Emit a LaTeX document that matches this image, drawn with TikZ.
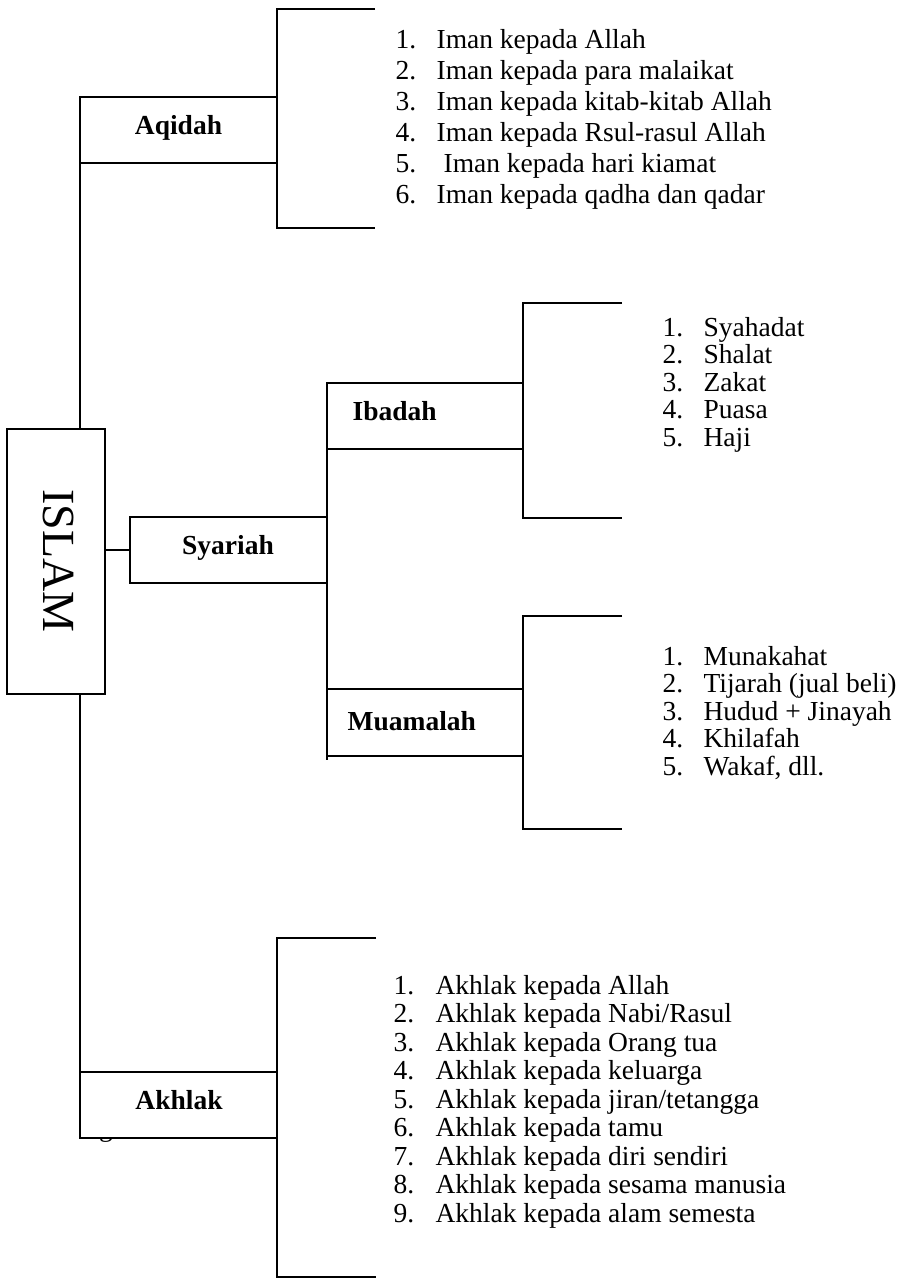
\documentclass[tikz,border=0pt]{standalone}
\usepackage{fontspec}
\setmainfont{Liberation Serif}
\begin{document}
\begin{tikzpicture}[x=1pt,y=-1pt,line width=1.2pt,
  box/.style={draw,fill=white,inner sep=0pt,outer sep=0pt,line width=1.3pt},
  itemtxt/.style={anchor=base west,inner sep=0pt,font=\fontsize{27.5}{30}\selectfont},
  lbl/.style={inner sep=0pt,font=\fontsize{27.5}{30}\selectfont\bfseries},
  link/.style={line width=1.3pt}]
\useasboundingbox (0,0) rectangle (903,1287);

% ---- coordinates for brackets and trunk
\coordinate (aqT) at (277,9);   \coordinate (aqB) at (277,228);
\coordinate (aqTe) at (375,9);  \coordinate (aqBe) at (375,228);
\coordinate (ibT) at (523,303); \coordinate (ibB) at (523,518);
\coordinate (ibTe) at (622,303);\coordinate (ibBe) at (622,518);
\coordinate (muT) at (523,616); \coordinate (muB) at (523,829);
\coordinate (muTe) at (622,616);\coordinate (muBe) at (622,829);
\coordinate (akT) at (277,938); \coordinate (akB) at (277,1277);
\coordinate (akTe) at (376,938);\coordinate (akBe) at (376,1277);
\coordinate (trunkEnd) at (80,1110);
\coordinate (syEnd) at (327,760);

% ---- stray glyph partly hidden behind the Akhlak box
\node[anchor=base,inner sep=0pt,font=\fontsize{27.5}{30}\selectfont] (stray) at (106,1136) {g};

% ---- main boxes
\node[box,minimum width=98pt,minimum height=265pt] (islam) at (56,561.5) {};
\node[rotate=-90,inner sep=0pt,font=\fontsize{46}{46}\selectfont] (islamtxt) at (59,561) {ISLAM};

\node[box,minimum width=197pt,minimum height=66pt] (aqidah) at (178.5,130) {};
\node[box,minimum width=197pt,minimum height=66pt] (syariah) at (228.5,550) {};
\node[box,minimum width=196pt,minimum height=66pt] (ibadah) at (425,416) {};
\node[box,minimum width=196pt,minimum height=67pt] (muamalah) at (425,722.5) {};

% ---- trunk and connectors
\draw[link] (aqidah.north west) -- (islam.north -| aqidah.north west);
\draw[link] (islam.south -| aqidah.north west) -- (trunkEnd);
\draw[link] (islam.east |- syariah.west) -- (syariah.west);
\draw[link] (ibadah.north west) -- (syEnd);

% ---- brackets
\draw[link] (aqTe) -- (aqT) -- (aqB) -- (aqBe);
\draw[link] (ibTe) -- (ibT) -- (ibB) -- (ibBe);
\draw[link] (muTe) -- (muT) -- (muB) -- (muBe);
\draw[link] (akTe) -- (akT) -- (akB) -- (akBe);

\node[box,minimum width=197pt,minimum height=66pt] (akhlak) at (178.5,1105) {};

% ---- box labels
\node[lbl,anchor=base] (aqidahtxt) at (178.5,135) {Aqidah};
\node[lbl,anchor=base] (syariahtxt) at (228,554) {Syariah};
\node[lbl,anchor=base west] (ibadahtxt) at (352,420) {Ibadah};
\node[lbl,anchor=base west] (muamalahtxt) at (347,730) {Muamalah};
\node[lbl,anchor=base] (akhlaktxt) at (179,1109) {Akhlak};

% ---- Aqidah list
\node[itemtxt] (aqn1) at (395,49) {1.};    \node[itemtxt] (aqt1) at (436,49) {Iman kepada Allah};
\node[itemtxt] (aqn2) at (395,79.8) {2.};  \node[itemtxt] (aqt2) at (436,79.8) {Iman kepada para malaikat};
\node[itemtxt] (aqn3) at (395,110.6) {3.}; \node[itemtxt] (aqt3) at (436,110.6) {Iman kepada kitab-kitab Allah};
\node[itemtxt] (aqn4) at (395,141.4) {4.}; \node[itemtxt] (aqt4) at (436,141.4) {Iman kepada Rsul-rasul Allah};
\node[itemtxt] (aqn5) at (395,172.2) {5.}; \node[itemtxt] (aqt5) at (443,172.2) {Iman kepada hari kiamat};
\node[itemtxt] (aqn6) at (395,203) {6.};   \node[itemtxt] (aqt6) at (436,203) {Iman kepada qadha dan qadar};

% ---- Ibadah list
\node[itemtxt] (ibn1) at (662,336) {1.};   \node[itemtxt] (ibt1) at (703,336) {Syahadat};
\node[itemtxt] (ibn2) at (662,363.5) {2.}; \node[itemtxt] (ibt2) at (703,363.5) {Shalat};
\node[itemtxt] (ibn3) at (662,391) {3.};   \node[itemtxt] (ibt3) at (703,391) {Zakat};
\node[itemtxt] (ibn4) at (662,418.5) {4.}; \node[itemtxt] (ibt4) at (703,418.5) {Puasa};
\node[itemtxt] (ibn5) at (662,446) {5.};   \node[itemtxt] (ibt5) at (703,446) {Haji};

% ---- Muamalah list
\node[itemtxt] (mun1) at (662,665) {1.};   \node[itemtxt] (mut1) at (703,665) {Munakahat};
\node[itemtxt] (mun2) at (662,692.5) {2.}; \node[itemtxt] (mut2) at (703,692.5) {Tijarah (jual beli)};
\node[itemtxt] (mun3) at (662,720) {3.};   \node[itemtxt] (mut3) at (703,720) {Hudud + Jinayah};
\node[itemtxt] (mun4) at (662,747.5) {4.}; \node[itemtxt] (mut4) at (703,747.5) {Khilafah};
\node[itemtxt] (mun5) at (662,775) {5.};   \node[itemtxt] (mut5) at (703,775) {Wakaf, dll.};

% ---- Akhlak list
\node[itemtxt] (akn1) at (393,994) {1.};    \node[itemtxt] (akt1) at (435,994) {Akhlak kepada Allah};
\node[itemtxt] (akn2) at (393,1022.5) {2.}; \node[itemtxt] (akt2) at (435,1022.5) {Akhlak kepada Nabi/Rasul};
\node[itemtxt] (akn3) at (393,1051) {3.};   \node[itemtxt] (akt3) at (435,1051) {Akhlak kepada Orang tua};
\node[itemtxt] (akn4) at (393,1079.5) {4.}; \node[itemtxt] (akt4) at (435,1079.5) {Akhlak kepada keluarga};
\node[itemtxt] (akn5) at (393,1108) {5.};   \node[itemtxt] (akt5) at (435,1108) {Akhlak kepada jiran/tetangga};
\node[itemtxt] (akn6) at (393,1136.5) {6.}; \node[itemtxt] (akt6) at (435,1136.5) {Akhlak kepada tamu};
\node[itemtxt] (akn7) at (393,1165) {7.};   \node[itemtxt] (akt7) at (435,1165) {Akhlak kepada diri sendiri};
\node[itemtxt] (akn8) at (393,1193.5) {8.}; \node[itemtxt] (akt8) at (435,1193.5) {Akhlak kepada sesama manusia};
\node[itemtxt] (akn9) at (393,1222) {9.};   \node[itemtxt] (akt9) at (435,1222) {Akhlak kepada alam semesta};
\end{tikzpicture}
\end{document}
